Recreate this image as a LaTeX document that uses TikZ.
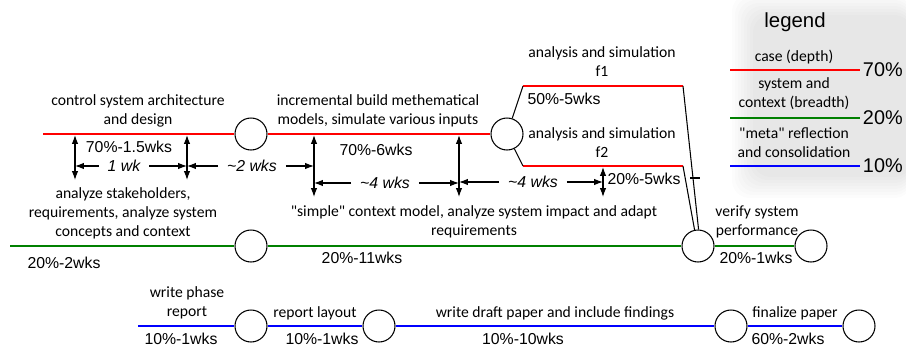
\documentclass[tikz,border=0pt]{standalone}
\usepackage{fontspec}
\setmainfont{Carlito}
\newfontfamily\arialfont{Liberation Sans}
\usetikzlibrary{arrows.meta}

\definecolor{casered}{RGB}{255,0,0}
\definecolor{ctxgreen}{RGB}{0,128,0}
\definecolor{metablue}{RGB}{0,0,255}

\tikzset{
	phase/.style={draw, circle, minimum size=0.64cm, inner sep=0pt, fill=white, line width=0.6pt},
	task/.style={align=center, inner sep=0pt, font=\fontsize{8.9}{10.8}\selectfont},
	effort/.style={inner sep=0pt, font=\arialfont\fontsize{9}{11}\selectfont},
	span/.style={inner xsep=5pt, inner ysep=0pt, font=\arialfont\itshape\fontsize{9}{11}\selectfont},
	pct/.style={inner sep=1.5pt, anchor=west, font=\arialfont\fontsize{11.3}{13}\selectfont},
	caseline/.style={draw=casered, line width=1.2pt},
	ctxline/.style={draw=ctxgreen, line width=1.2pt},
	metaline/.style={draw=metablue, line width=1.2pt},
	thin/.style={draw, line width=0.6pt},
	marker/.style={thin, <->, >={Latex[length=5pt,width=3.6pt]}},
	spanarrow/.style={thin, ->, >={Latex[length=5pt,width=3.6pt]}}
}

\begin{document}
\begin{tikzpicture}[x=0.02cm, y=-0.02cm]
	\useasboundingbox (0,0) rectangle (906,352);
	% legend (soft grey backdrop)
	\foreach \i in {0,...,7}
		\fill[black, opacity=0.012, rounded corners=10pt] (732+3*\i,-6+3*\i) rectangle (912,198-3*\i);
	\node[inner sep=0pt, font=\arialfont\fontsize{11.6}{13}\selectfont] (lg) at (795,22) {legend};
	\node[task] (lt1) at (794,57) {case (depth)};
	\node[task] (lt2) at (794,94) {system and\\context (breadth)};
	\node[task] (lt3) at (794,143) {\textquotedbl meta\textquotedbl{} reflection\\and consolidation};
	\coordinate (lr0) at (730,70);
	\coordinate (lg0) at (730,118);
	\coordinate (lb0) at (730,166);
	\node[pct] (p1) at (860,70) {70\%};
	\node[pct] (p2) at (860,118) {20\%};
	\node[pct] (p3) at (860,166) {10\%};
	\draw[caseline] (lr0) -- (p1.west);
	\draw[ctxline] (lg0) -- (p2.west);
	\draw[metaline] (lb0) -- (p3.west);

	% case line
	\coordinate (r0) at (43,134);
	\node[phase] (c1) at (251,134) {};
	\node[phase] (c2) at (507,134) {};
	\coordinate (f1a) at (523,86);
	\coordinate (f1b) at (683,86);
	\coordinate (f2a) at (523,166);
	\coordinate (f2b) at (683,166);
	\draw[caseline] (r0) -- (c1) -- (c2);
	\draw[caseline] (f1a) -- (f1b);
	\draw[caseline] (f2a) -- (f2b);
	\draw[thin] (c2) -- (f1a);
	\draw[thin] (c2) -- (f2a);

	% context line
	\coordinate (g0) at (10,246);
	\node[phase] (g1) at (251,246) {};
	\node[phase] (v1) at (698,246) {};
	\node[phase] (v2) at (811,246) {};
	\draw[ctxline] (g0) -- (g1) -- (v1) -- (v2);
	\draw[thin] (f1b) -- (v1.88);
	\draw[thin] (f2b) -- (v1.102);
	\coordinate (tk0) at (690,178);
	\coordinate (tk1) at (700,178);
	\draw[thin] (tk0) -- (tk1);

	% meta line
	\coordinate (b0) at (138,326);
	\node[phase] (b1) at (251,326) {};
	\node[phase] (b2) at (379,326) {};
	\node[phase] (b3) at (731,326) {};
	\node[phase] (b4) at (859,326) {};
	\draw[metaline] (b0) -- (b1) -- (b2) -- (b3) -- (b4);

	% tasks
	\node[task] (t1) at (138,111) {control system architecture\\and design};
	\node[effort] (e1) at (129,147) {70\%-1.5wks};
	\node[task] (t2) at (378,111) {incremental build methematical\\models, simulate various inputs};
	\node[effort] (e2) at (376,150) {70\%-6wks};
	\node[task] (t3) at (602,62) {analysis and simulation\\f1};
	\node[effort] (e3) at (564,99) {50\%-5wks};
	\node[task] (t4) at (602,143) {analysis and simulation\\f2};
	\node[effort] (e4) at (644,179) {20\%-5wks};
	\node[task] (t5) at (123,213) {analyze stakeholders,\\requirements, analyze system\\concepts and context};
	\node[effort] (e5) at (64,263) {20\%-2wks};
	\node[task] (t6) at (474,222) {\textquotedbl simple\textquotedbl{} context model, analyze system impact and adapt\\requirements};
	\node[effort] (e6) at (362,258) {20\%-11wks};
	\node[task] (t7) at (757,222) {verify system\\performance};
	\node[effort] (e7) at (756,258) {20\%-1wks};
	\node[task] (t8) at (187,303) {write phase\\report};
	\node[effort] (e8) at (181,339) {10\%-1wks};
	\node[task] (t9) at (315,313) {report layout};
	\node[effort] (e9) at (322,339) {10\%-1wks};
	\node[task] (t10) at (555,313) {write draft paper and include findings};
	\node[effort] (e10) at (523,339) {10\%-10wks};
	\node[task] (t11) at (795,313) {finalize paper};
	\node[effort] (e11) at (788,339) {60\%-2wks};

	% time markers
	\coordinate (va1) at (75,135);   \coordinate (vb1) at (75,180);
	\coordinate (va2) at (187,135);  \coordinate (vb2) at (187,180);
	\coordinate (va3) at (314,135);  \coordinate (vb3) at (314,197);
	\coordinate (va4) at (459,135);  \coordinate (vb4) at (459,197);
	\coordinate (va5) at (603,167);  \coordinate (vb5) at (603,197);
	\draw[marker] (va1) -- (vb1);
	\draw[marker] (va2) -- (vb2);
	\draw[marker] (va3) -- (vb3);
	\draw[marker] (va4) -- (vb4);
	\draw[marker] (va5) -- (vb5);

	\node[span] (s1) at (124,166) {1 wk};
	\node[span] (s2) at (252,166) {\textasciitilde 2 wks};
	\node[span] (s3) at (385,183) {\textasciitilde 4 wks};
	\node[span] (s4) at (533,182) {\textasciitilde 4 wks};
	\draw[spanarrow] (s1) -- (s1 -| va1);
	\draw[spanarrow] (s1) -- (s1 -| va2);
	\draw[spanarrow] (s2) -- (s2 -| va2);
	\draw[spanarrow] (s2) -- (s2 -| va3);
	\draw[spanarrow] (s3) -- (s3 -| va3);
	\draw[spanarrow] (s3) -- (s3 -| va4);
	\draw[spanarrow] (s4) -- (s4 -| va4);
	\draw[spanarrow] (s4) -- (s4 -| va5);
\end{tikzpicture}
\end{document}
